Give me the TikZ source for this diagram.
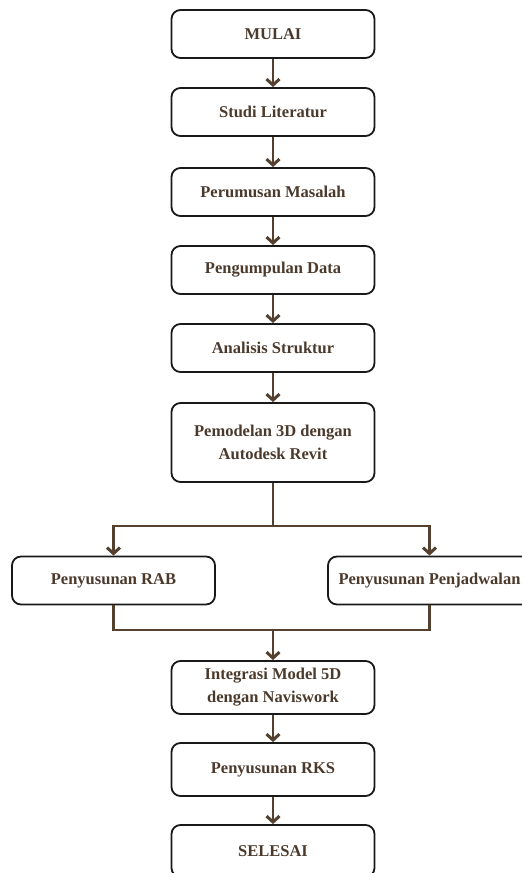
\documentclass[tikz,border=0pt]{standalone}
\usepackage{fontspec}
\setmainfont{Liberation Serif}
\usepackage{xcolor}
\usepackage{tikz}
\usetikzlibrary{arrows.meta}
\usetikzlibrary{positioning}
\definecolor{brownline}{HTML}{54402F}
\definecolor{browntext}{HTML}{4B3A2C}
\tikzstyle{box} = [draw=black!90, line width=1.8pt, rounded corners=9pt,
minimum width=203pt, minimum height=48pt, text=browntext, align=center,
font=\fontsize{16.5}{23}\selectfont\bfseries]
\tikzstyle{line} = [draw=brownline, line width=2.6pt, -{Straight Barb[length=6pt,width=13pt,line width=3pt]}]
\tikzstyle{wire} = [draw=brownline, line width=2.6pt]

\begin{document}
\begin{tikzpicture}[x=1pt, y=1pt]
            \useasboundingbox (0,0) rectangle (522,-873);
            \node[box] (mulai) at (273,-34) {MULAI};
            \node[box] (studi) at (273,-112) {Studi Literatur};
            \node[box] (perumusan) at (273,-192) {Perumusan Masalah};
            \node[box] (pengumpulan) at (273,-270) {Pengumpulan Data};
            \node[box] (analisis) at (273,-348) {Analisis Struktur};
            \node[box, minimum height=79pt] (pemodelan) at (273,-442.5) {Pemodelan 3D dengan\\Autodesk Revit};
            \node[box] (rab) at (113.5,-580.5) {Penyusunan RAB};
            \node[box] (jadwal) at (429.5,-580.5) {Penyusunan Penjadwalan};
            \node[box, minimum height=53pt] (integrasi) at (273,-687.5) {Integrasi Model 5D\\dengan Naviswork};
            \node[box, minimum height=53pt] (rks) at (273,-769.5) {Penyusunan RKS};
            \node[box, minimum height=52pt] (selesai) at (273,-851) {SELESAI};
            %% Flows (main)
            \path [line] (mulai) -- (studi);
            \path [line] (studi) -- (perumusan);
            \path [line] (perumusan) -- (pengumpulan);
            \path [line] (pengumpulan) -- (analisis);
            \path [line] (analisis) -- (pemodelan);
            %% Branch
            \coordinate (split) at (273,-526);
            \path [wire] (pemodelan.south) -- (split);
            \path [line] (split) -| (rab);
            \path [line] (split) -| (jadwal);
            %% Merge
            \coordinate (merge) at (273,-630);
            \path [wire] (rab.south) |- (merge) -| (jadwal.south);
            \path [line] (merge) -- (integrasi);
            %%
            \path [line] (integrasi) -- (rks);
            \path [line] (rks) -- (selesai);
        \end{tikzpicture}
\end{document}
